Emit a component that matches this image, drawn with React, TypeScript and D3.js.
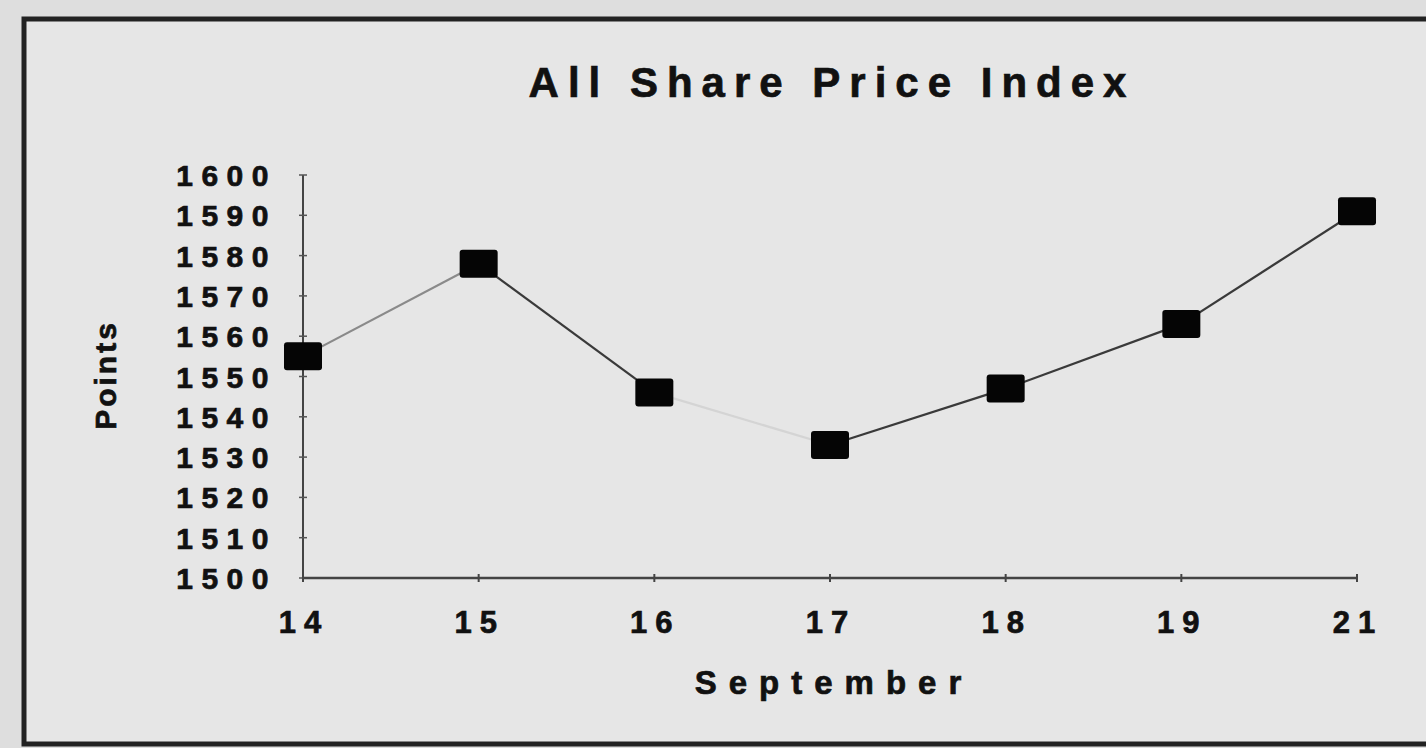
import React from "react";
import * as d3 from "d3";

const title = "All Share Price Index";
const xTitle = "September";
const yTitle = "Points";
const days = ["14", "15", "16", "17", "18", "19", "21"];
const points = [1555, 1578, 1546, 1533, 1547, 1563, 1591];
const yTicks = [1500, 1510, 1520, 1530, 1540, 1550, 1560, 1570, 1580, 1590, 1600];

const W = 1426;
const H = 748;

export default function App() {
  const x = d3.scalePoint<string>().domain(days).range([303, 1357]).padding(0);
  const y = d3.scaleLinear().domain([1500, 1600]).range([578, 175]);

  const segs = points.slice(0, -1).map((v, i) => [v, points[i + 1]]);
  const segColor = (i: number) => (i === 0 ? "#8a8a8a" : i === 2 ? "#d4d4d4" : "#3a3a3a");

  const font = "'Liberation Sans', Arial, sans-serif";
  const heavy = { stroke: "#111", strokeWidth: 0.7 };

  return (
    <svg
      width={W}
      height={H}
      style={{ position: "fixed", left: 0, top: 0, background: "#dedede" }}
      fontFamily={font}
    >
      <rect x={24} y={19} width={W + 20} height={725} fill="#e6e6e6" stroke="#222" strokeWidth={5} />

      <text x={832} y={97} textAnchor="middle" fontSize={42} fontWeight="bold" letterSpacing={9} fill="#111" {...heavy}>
        {title}
      </text>

      {/* Y axis */}
      <line x1={303} x2={303} y1={y(1600)} y2={y(1500)} stroke="#444" strokeWidth={2} />
      {yTicks.map((t) => (
        <g key={t}>
          <line x1={299} x2={307} y1={y(t)} y2={y(t)} stroke="#555" strokeWidth={1.5} />
          <text x={277} y={y(t) + 11} textAnchor="end" fontSize={30} fontWeight="bold" letterSpacing={8.5} fill="#111" {...heavy}>
            {t}
          </text>
        </g>
      ))}

      {/* X axis */}
      <line x1={303} x2={1357} y1={578} y2={578} stroke="#444" strokeWidth={2.5} />
      {days.map((d) => (
        <g key={d}>
          <line x1={x(d)} x2={x(d)} y1={574} y2={582} stroke="#444" strokeWidth={2} />
          <text x={(x(d) as number) + 1} y={633} textAnchor="middle" fontSize={31} fontWeight="bold" letterSpacing={8} fill="#111" {...heavy}>
            {d}
          </text>
        </g>
      ))}

      <text x={834} y={694} textAnchor="middle" fontSize={33} fontWeight="bold" letterSpacing={12} fill="#111" {...heavy}>
        {xTitle}
      </text>
      <text
        transform="translate(116,375) rotate(-90)"
        textAnchor="middle"
        fontSize={30}
        fontWeight="bold"
        letterSpacing={3}
        fill="#111"
        {...heavy}
      >
        {yTitle}
      </text>

      {/* line segments */}
      {segs.map((s, i) => {
        const d = d3
          .line<number>()
          .x((_, j) => x(days[i + j]) as number)
          .y((v) => y(v))(s);
        return <path key={i} d={d ?? ""} fill="none" stroke={segColor(i)} strokeWidth={2.2} />;
      })}

      {/* markers */}
      {points.map((v, i) => (
        <rect
          key={i}
          x={(x(days[i]) as number) - 19}
          y={y(v) - 14}
          width={38}
          height={28}
          rx={3}
          fill="#050505"
        />
      ))}
    </svg>
  );
}
